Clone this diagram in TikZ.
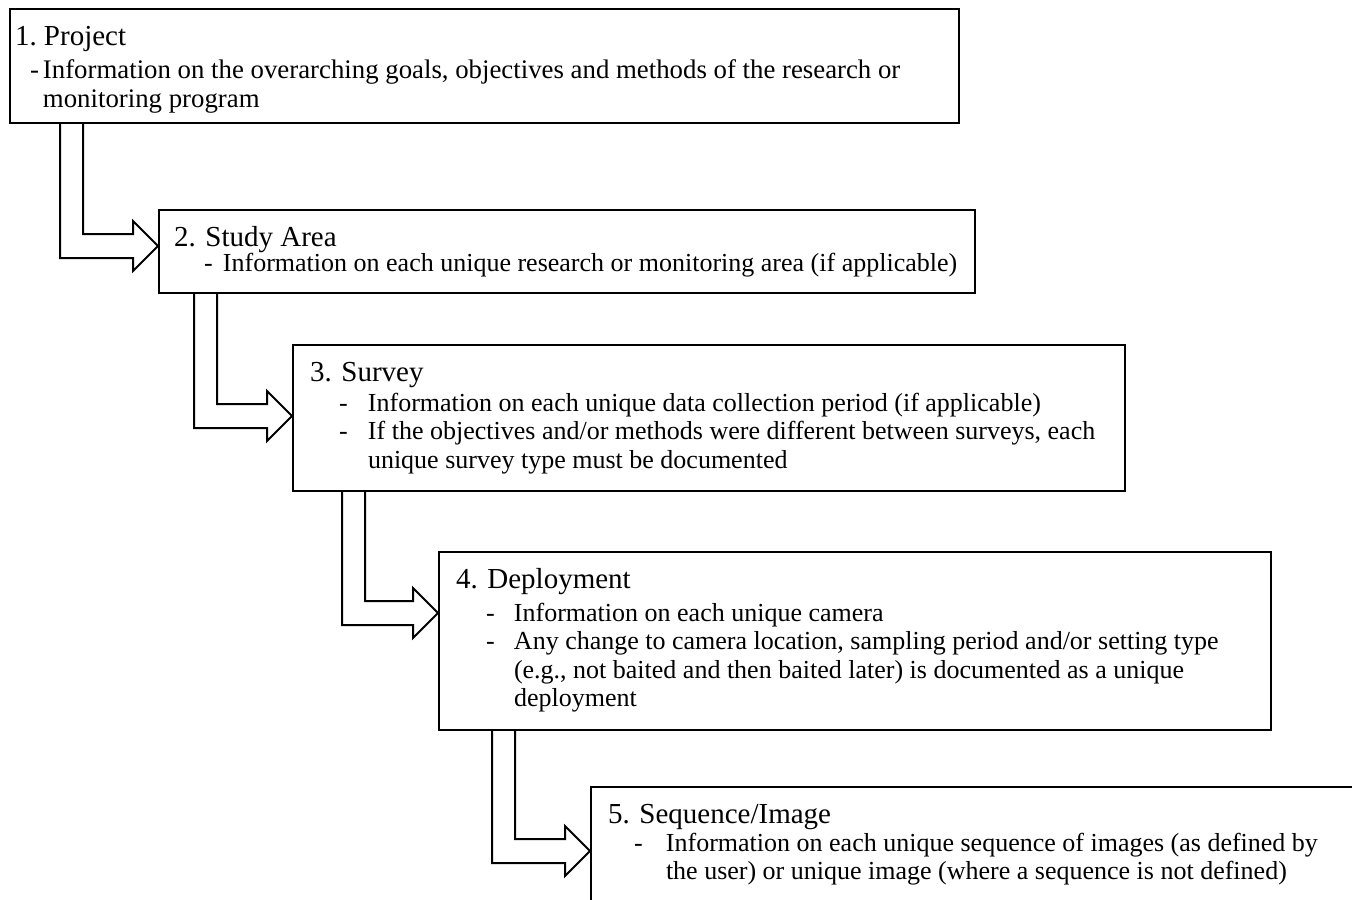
\documentclass[tikz,border=0pt]{standalone}
\usepackage{fontspec}
\setmainfont{Liberation Serif}
\usepackage{tikz}
\usetikzlibrary{calc}

\tikzset{
    % Stage box style
    stage/.style={
        rectangle,
        draw=black,
        fill=white,
        line width=1pt,
        inner sep=0pt,
        anchor=north west
    },
    % Bent block arrow style
    flowarrow/.style={
        draw=black,
        line width=1pt,
        line join=miter
    }
}

% Box contents: width, height, lines
\newcommand{\stagebody}[3]{\parbox[c][#2][t]{#1}{\setlength{\parindent}{0pt}\fontsize{13}{14.25}\selectfont #3}}
% Title line: indent, gap below, text
\newcommand{\stagetitle}[3]{\rule{0pt}{18pt}\hspace*{#1}{\fontsize{14.5}{14.5}\selectfont #3}\par\vspace{#2}}
% Item line: indent, dash width, text
\newcommand{\stageitem}[3]{\hspace*{#1}\makebox[#2][l]{-}#3\par}
% Continued line: indent, text
\newcommand{\stagecont}[2]{\hspace*{#1}#2\par}
% Bent block arrow from one box down to the next
\newcommand{\stagearrow}[4]{%
    \draw[flowarrow] let \p1 = ($(#1.south west)+(#3,0)$),
                         \p2 = ($(#2.north west)+(0,#4)$) in
        (\x1,\y1) -- (\x1,\y2-6pt) -- (\x2-12.5pt,\y2-6pt) -- (\x2-12.5pt,\y2-12.5pt)
        -- (\x2,\y2) -- (\x2-12.5pt,\y2+12.5pt) -- (\x2-12.5pt,\y2+6pt)
        -- (\x1+11.5pt,\y2+6pt) -- (\x1+11.5pt,\y1);}

\begin{document}
\begin{tikzpicture}[x=0.5pt, y=-0.5pt]
    \clip (0,0) rectangle (1352,899);

    \node (project) [stage] at (9,8) {\stagebody{474.5pt}{57pt}{%
        \stagetitle{2.5pt}{2.25pt}{1.~Project}
        \fontsize{13.4}{14.5}\selectfont
        \stageitem{10pt}{6.5pt}{Information on the overarching goals, objectives and methods of the research or}
        \stagecont{16.5pt}{monitoring program}}};

    \node (area) [stage] at (158,209) {\stagebody{408pt}{41.5pt}{%
        \stagetitle{7.5pt}{-1.75pt}{2. Study Area}
        \stageitem{22.5pt}{9.5pt}{Information on each unique research or monitoring area (if applicable)}}};

    \node (survey) [stage] at (292,344) {\stagebody{416pt}{73pt}{%
        \stagetitle{8.5pt}{0.75pt}{3. Survey}
        \stageitem{23pt}{14.5pt}{Information on each unique data collection period (if applicable)}
        \stageitem{23pt}{14.5pt}{If the objectives and/or methods were different between surveys, each}
        \stagecont{37.5pt}{unique survey type must be documented}}};

    \node (deploy) [stage] at (438,551) {\stagebody{416pt}{89pt}{%
        \stagetitle{8.5pt}{2.25pt}{4. Deployment}
        \stageitem{23.5pt}{14pt}{Information on each unique camera}
        \stageitem{23.5pt}{14pt}{Any change to camera location, sampling period and/or setting type}
        \stagecont{37.5pt}{(e.g., not baited and then baited later) is documented as a unique}
        \stagecont{37.5pt}{deployment}}};

    \node (sequence) [stage] at (590,786) {\stagebody{390pt}{67pt}{%
        \stagetitle{8.5pt}{-0.25pt}{5. Sequence/Image}
        \stageitem{21.5pt}{16pt}{Information on each unique sequence of images (as defined by}
        \stagecont{37.5pt}{the user) or unique image (where a sequence is not defined)}}};

    % block arrows between the levels
    \stagearrow{project}{area}{51}{37}
    \stagearrow{area}{survey}{36}{72}
    \stagearrow{survey}{deploy}{50}{62}
    \stagearrow{deploy}{sequence}{54}{65}
\end{tikzpicture}
\end{document}
